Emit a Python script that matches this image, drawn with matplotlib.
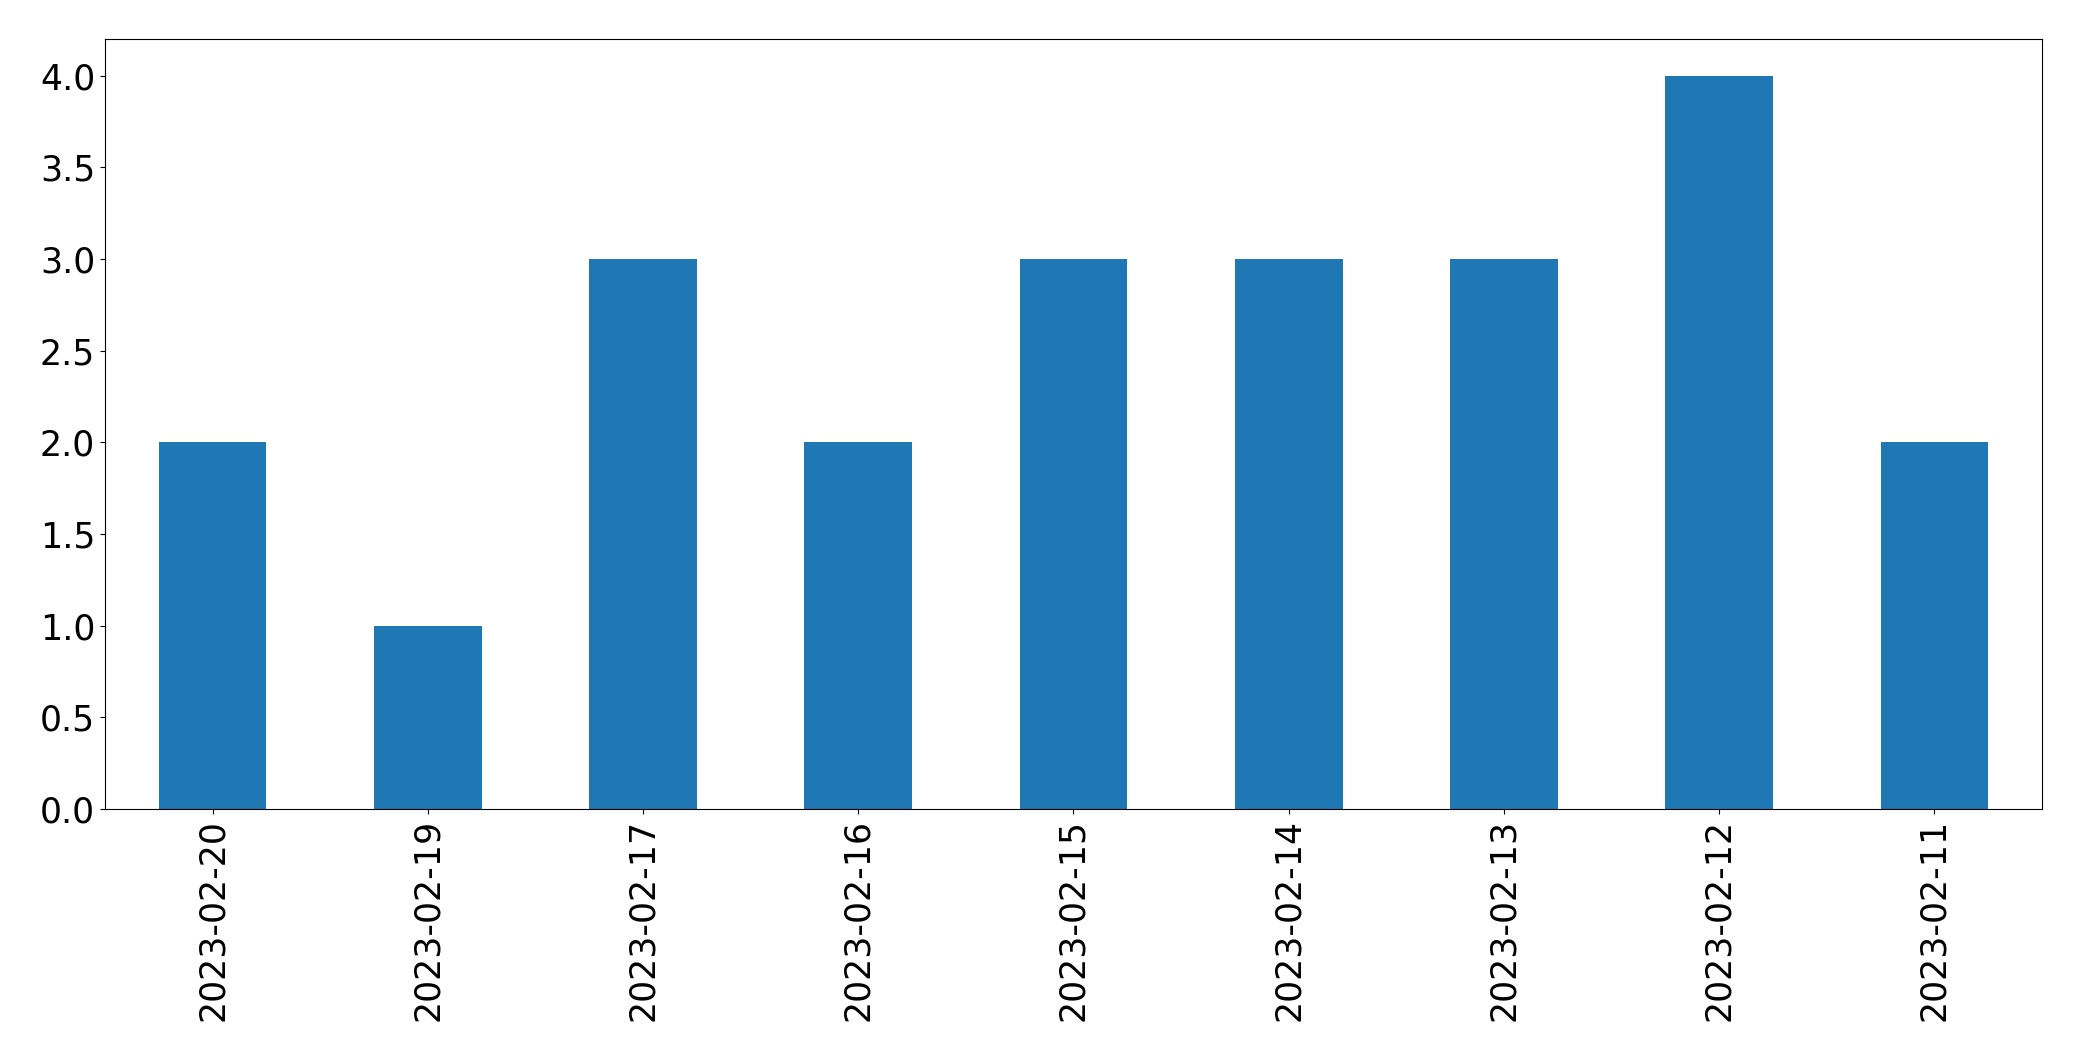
import numpy as np
import matplotlib
matplotlib.use("Agg")
import matplotlib.pyplot as plt

dates = ['2023-02-20', '2023-02-19', '2023-02-17', '2023-02-16', '2023-02-15',
         '2023-02-14', '2023-02-13', '2023-02-12', '2023-02-11']
counts = [2, 1, 3, 2, 3, 3, 3, 4, 2]

fig, ax = plt.subplots(figsize=(20.82, 10.61), dpi=100)
fig.subplots_adjust(left=0.0504, right=0.9808, top=0.9632, bottom=0.2375)

x = np.arange(len(dates))
ax.bar(x, counts, width=0.5, color='#1f77b4')
ax.set_xlim(-0.5, len(dates) - 0.5)
ax.set_ylim(0, 4.2)
ax.set_yticks(np.arange(0, 4.01, 0.5))
ax.set_xticks(x)
ax.set_xticklabels(dates, rotation=90)
ax.tick_params(labelsize=25)

fig.savefig('out.png')
